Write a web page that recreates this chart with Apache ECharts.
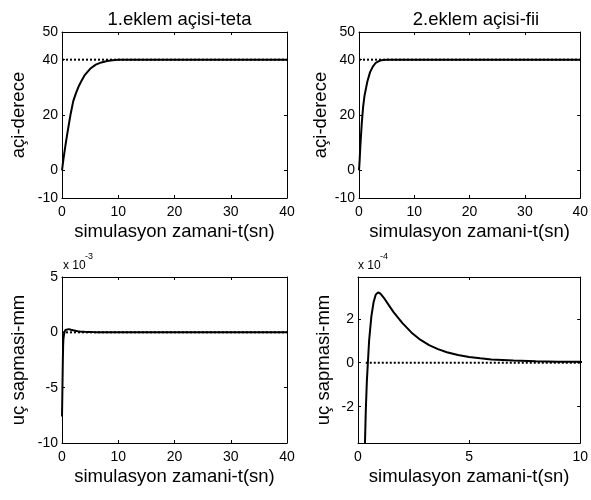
<!DOCTYPE html>
<html>
<head>
<meta charset="utf-8">
<script src="https://cdn.jsdelivr.net/npm/echarts@6/dist/echarts.min.js"></script>
<style>
  html, body { margin: 0; background: #fff; }
  #chart { width: 591px; height: 500px; }
</style>
</head>
<body>
<div id="chart"></div>
<script>
const font = "'Liberation Sans', Arial, sans-serif";

// 1.eklem acisi - teta (derece)
const tetaT = [0, 0.25, 0.5, 0.75, 1, 1.5, 2, 2.5, 3, 3.5, 4, 5, 6, 7, 8, 9, 10, 15, 20, 30, 40];
const tetaV = [0, 4, 7.5, 10.8, 14, 20, 25, 28, 30.5, 32.5, 34.3, 36.7, 38.2, 39, 39.5, 39.8, 40, 40, 40, 40, 40];
// 2.eklem acisi - fii (derece)
const fiiT = [0, 0.1, 0.25, 0.5, 0.75, 1, 1.5, 2, 2.5, 3, 3.5, 4, 5, 10, 20, 30, 40];
const fiiV = [0, 3, 9, 17, 23, 27, 32, 35.5, 37.5, 38.8, 39.4, 39.8, 40, 40, 40, 40, 40];
// uc sapmasi (mm)
const sapmaT = [0, 0.05, 0.1, 0.15, 0.2, 0.25, 0.3, 0.35, 0.4, 0.45, 0.5, 0.6, 0.7, 0.8, 0.9, 1.0,
                1.2, 1.4, 1.6, 1.8, 2.0, 2.4, 2.8, 3.2, 3.6, 4.0, 4.5, 5, 5.5, 6, 7, 8, 9, 10, 15, 20, 30, 40];
const sapmaV = [-76e-4, -60e-4, -42e-4, -25e-4, -12e-4, -6e-4, -4.2e-4, -2.2e-4, -0.8e-4, 0.1e-4, 1.0e-4, 2.1e-4, 2.75e-4, 3.1e-4, 3.2e-4, 3.15e-4,
                2.9e-4, 2.6e-4, 2.3e-4, 2.05e-4, 1.8e-4, 1.38e-4, 1.05e-4, 0.8e-4, 0.62e-4, 0.48e-4, 0.35e-4, 0.26e-4, 0.2e-4, 0.15e-4, 0.1e-4, 0.07e-4, 0.05e-4, 0.04e-4, 0.02e-4, 0.01e-4, 0, 0];

// referanslar (noktali)
const tetaRef = [[0, 40], [40, 40]];
const fiiRef = [[0, 40], [40, 40]];
const sapmaRefL = [[0, 0], [40, 0]];
const sapmaRefR = [[0.35, 0], [10, 0]];

// eksen isaretleri
const aciTicks = [-10, 0, 20, 40, 50];
const sapmaTicksL = [-10e-3, -5e-3, 0, 5e-3];
const sapmaTicksR = [-2e-4, 0, 2e-4];
const zaman40 = [0, 10, 20, 30, 40];
const zaman10 = [0, 5, 10];

const zip = (t, v) => t.map((x, i) => [x, v[i]]);

const grids = [
  { left: 62, top: 32, width: 225, height: 166 },
  { left: 359, top: 32, width: 224, height: 166 },
  { left: 62, top: 277, width: 225, height: 166 },
  { left: 358, top: 277, width: 225, height: 166 }
];

const line = { show: true, onZero: false, lineStyle: { color: '#000', width: 1 } };
const label = { color: '#000', fontSize: 14, fontFamily: font };
const nameStyle = { color: '#000', fontSize: 18.5, fontFamily: font };

const xAxes = [], yAxes = [];
function addX(g, min, max, ticks, name) {
  xAxes.push({
    type: 'value', gridIndex: g, min, max, position: 'bottom',
    name, nameLocation: 'middle', nameGap: 24, nameTextStyle: nameStyle,
    axisLine: line, splitLine: { show: false },
    axisTick: { inside: true, length: 3, customValues: ticks, lineStyle: { color: '#000' } },
    axisLabel: Object.assign({ customValues: ticks, margin: 7 }, label)
  });
}
function addY(g, min, max, ticks, name, fmt, gap) {
  yAxes.push({
    type: 'value', gridIndex: g, min, max, position: 'left',
    name, nameLocation: 'middle', nameGap: gap, nameTextStyle: nameStyle,
    axisLine: line, splitLine: { show: false },
    axisTick: { inside: true, length: 3, customValues: ticks, lineStyle: { color: '#000' } },
    axisLabel: Object.assign({ customValues: ticks, margin: 4, formatter: fmt }, label)
  });
}
function mirror(list, g, min, max, ticks, pos) {
  list.push({
    type: 'value', gridIndex: g, min, max, position: pos,
    axisLine: line, splitLine: { show: false }, axisLabel: { show: false },
    axisTick: { inside: true, length: 3, customValues: ticks, lineStyle: { color: '#000' } }
  });
}

const zamanName = 'simulasyon zamani-t(sn)';
addX(0, 0, 40, zaman40, zamanName);
addX(1, 0, 40, zaman40, zamanName);
addX(2, 0, 40, zaman40, zamanName);
addX(3, 0, 10, zaman10, zamanName);
addY(0, -10, 50, aciTicks, 'açi-derece', v => v, 34);
addY(1, -10, 50, aciTicks, 'açi-derece', v => v, 25);
addY(2, -10e-3, 5e-3, sapmaTicksL, 'uç sapmasi-mm', v => Math.round(v * 1000), 34);
addY(3, -3.65e-4, 3.9e-4, sapmaTicksR, 'uç sapmasi-mm', v => Math.round(v * 10000), 25);
mirror(xAxes, 0, 0, 40, zaman40, 'top');
mirror(xAxes, 1, 0, 40, zaman40, 'top');
mirror(xAxes, 2, 0, 40, zaman40, 'top');
mirror(xAxes, 3, 0, 10, zaman10, 'top');
mirror(yAxes, 0, -10, 50, aciTicks, 'right');
mirror(yAxes, 1, -10, 50, aciTicks, 'right');
mirror(yAxes, 2, -10e-3, 5e-3, sapmaTicksL, 'right');
mirror(yAxes, 3, -3.65e-4, 3.9e-4, sapmaTicksR, 'right');

function curve(i, data) {
  return {
    type: 'line', xAxisIndex: i, yAxisIndex: i, data, showSymbol: false, clip: true,
    lineStyle: { color: '#000', width: 2 }, z: 3, silent: true
  };
}
function ref(i, data) {
  return {
    type: 'line', xAxisIndex: i, yAxisIndex: i, data, showSymbol: false, clip: true,
    lineStyle: { color: '#000', width: 2, type: [2, 2] }, z: 2, silent: true
  };
}

const sapma = zip(sapmaT, sapmaV);

const option = {
  animation: false,
  backgroundColor: '#fff',
  title: [
    { text: '1.eklem açisi-teta', left: 174.5, top: 5, textAlign: 'center',
      textStyle: { color: '#000', fontSize: 18.5, fontWeight: 'normal', fontFamily: font } },
    { text: '2.eklem açisi-fii', left: 471, top: 5, textAlign: 'center',
      textStyle: { color: '#000', fontSize: 18.5, fontWeight: 'normal', fontFamily: font } }
  ],
  grid: grids,
  xAxis: xAxes,
  yAxis: yAxes,
  graphic: [
    { type: 'text', left: 63, top: 260, style: { text: 'x 10', fill: '#000', fontSize: 12, fontFamily: font } },
    { type: 'text', left: 85, top: 252, style: { text: '-3', fill: '#000', fontSize: 9, fontFamily: font } },
    { type: 'text', left: 358, top: 260, style: { text: 'x 10', fill: '#000', fontSize: 12, fontFamily: font } },
    { type: 'text', left: 380, top: 252, style: { text: '-4', fill: '#000', fontSize: 9, fontFamily: font } }
  ],
  series: [
    ref(0, tetaRef), curve(0, zip(tetaT, tetaV)),
    ref(1, fiiRef), curve(1, zip(fiiT, fiiV)),
    ref(2, sapmaRefL), curve(2, sapma),
    ref(3, sapmaRefR), curve(3, sapma)
  ]
};

const chart = echarts.init(document.getElementById('chart'));
chart.setOption(option);
</script>
</body>
</html>
